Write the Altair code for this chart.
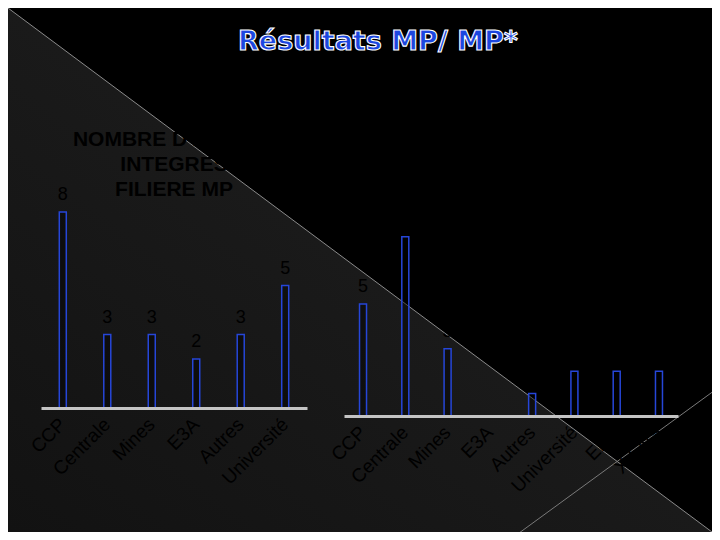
import altair as alt
import pandas as pd

# ---- data ----
left_cats = ["CCP", "Centrale", "Mines", "E3A", "Autres", "Université"]
left_vals = [8, 3, 3, 2, 3, 5]

right_cats = ["CCP", "Centrale", "Mines", "E3A", "Autres", "Université", "ENS", "X-ENS"]
right_vals = [5, 8, 3, None, 1, 2, 2, 2]

main_title = "Résultats MP/ MP*"
left_title = "NOMBRE D'ELEVES\nINTEGRES\nFILIERE MP"

W, H = 704, 524

left_df = pd.DataFrame({"cat": left_cats, "v": left_vals})
right_df = pd.DataFrame({"cat": right_cats, "v": right_vals}).dropna()
one = pd.DataFrame({"a": [0]})

BAR_STROKE = "#2646d8"
LABEL_FONT = "Liberation Sans"

# ---- background: diagonal split ----
bg = alt.Chart(one).mark_rect(
    fill={
        "gradient": "linear",
        "x1": 1, "y1": 0, "x2": 0, "y2": 1,
        "stops": [
            {"offset": 0, "color": "#000000"},
            {"offset": 0.5, "color": "#000000"},
            {"offset": 0.5, "color": "#1a1a1a"},
            {"offset": 1, "color": "#121212"},
        ],
    }
).encode(x=alt.value(0), x2=alt.value(W), y=alt.value(0), y2=alt.value(H))

diag = alt.Chart(one).mark_rule(color="#8a8a8a", strokeWidth=1).encode(
    x=alt.value(0), y=alt.value(0), x2=alt.value(W), y2=alt.value(H)
)
diag2 = alt.Chart(one).mark_rule(color="#7a7a7a", strokeWidth=1).encode(
    x=alt.value(496), y=alt.value(536), x2=alt.value(W + 10), y2=alt.value(377)
)


def axis_x(offset):
    return alt.Axis(
        orient="bottom", offset=offset, title=None, ticks=False, zindex=1,
        domainColor="#c4c4c4", domainWidth=3, grid=False,
        labelAngle=315, labelAlign="right", labelBaseline="middle",
        labelPadding=13, labelFont=LABEL_FONT, labelFontSize=19,
        labelColor="#000000", labelOverlap=False, labelFlush=False, labelLimit=300,
    )


# ---- left chart ----
lscale = alt.Scale(domain=left_cats, range=[33, 299], paddingInner=0.82, paddingOuter=0.4)
lx = alt.X("cat:N", sort=left_cats, scale=lscale, axis=axis_x(-(H - 400)))
ly = alt.Y("v:Q", scale=alt.Scale(domain=[0, 8], range=[400, 204]), axis=None)

left_bars = alt.Chart(left_df).mark_bar(
    width=7, fill="#000000", fillOpacity=0.4, stroke=BAR_STROKE, strokeWidth=1.5
).encode(x=lx, y=ly)
left_text = alt.Chart(left_df).mark_text(
    font=LABEL_FONT, fontSize=18, color="#000000", dy=-17, baseline="middle"
).encode(x=lx, y=ly, text="v:Q")
left = alt.layer(left_bars, left_text)

# ---- right chart ----
rscale = alt.Scale(domain=right_cats, range=[336, 670], paddingInner=0.82, paddingOuter=0.36)
rx = alt.X("cat:N", sort=right_cats, scale=rscale, axis=axis_x(-(H - 408)))
ry = alt.Y("v:Q", scale=alt.Scale(domain=[0, 8], range=[408, 228.8]), axis=None)

right_bars = alt.Chart(right_df).mark_bar(
    width=7, fill="#000000", fillOpacity=0.4, stroke=BAR_STROKE, strokeWidth=1.5
).encode(x=rx, y=ry)
right_text = alt.Chart(right_df).mark_text(
    font=LABEL_FONT, fontSize=18, color="#000000", dy=-17, baseline="middle"
).encode(x=rx, y=ry, text="v:Q")
right = alt.layer(right_bars, right_text)

# ---- titles ----
title = alt.Chart(one).mark_text(
    text=main_title, font="DejaVu Sans", fontWeight="bold", fontSize=27,
    fill="#1c46e0", stroke="#ffffff", strokeWidth=1.1, align="center", baseline="middle"
).encode(x=alt.value(370), y=alt.value(34))

sub = alt.Chart(one).mark_text(
    text=left_title, lineBreak="\n", lineHeight=25, font=LABEL_FONT, fontWeight="bold",
    fontSize=21, color="#000000", align="center", baseline="middle"
).encode(x=alt.value(166), y=alt.value(132))

chart = alt.layer(bg, diag, diag2, left, right, sub, title).resolve_scale(
    x="independent", y="independent"
).resolve_axis(x="independent", y="independent").properties(
    width=W, height=H, autosize=alt.AutoSizeParams(type="none"), padding=0
).configure(background="#000000").configure_view(stroke=None)

chart.save("out.html", embed_options={"renderer": "svg", "actions": False})
